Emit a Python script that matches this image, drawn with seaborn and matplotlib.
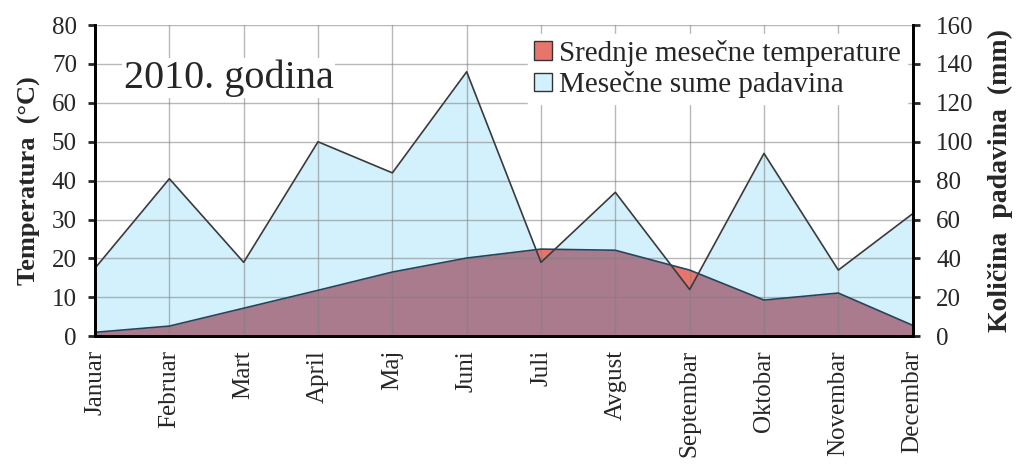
import numpy as np
import matplotlib.pyplot as plt
import seaborn as sns
from matplotlib.patches import Patch

# ------------------------------------------------------------
# Data
# ------------------------------------------------------------
months = ["Januar", "Februar", "Mart", "April", "Maj", "Juni", "Juli",
          "Avgust", "Septembar", "Oktobar", "Novembar", "Decembar"]
temperature = [1.0, 2.6, 7.2, 11.8, 16.5, 20.1, 22.4, 22.1, 17.0, 9.3, 11.1, 2.8]
precipitation = [35, 81, 38, 100, 84, 136, 38, 74, 24, 94, 34, 63]

temp_ticks = [0, 10, 20, 30, 40, 50, 60, 70, 80]
prec_ticks = [0, 20, 40, 60, 80, 100, 120, 140, 160]

BLUE = "#d3f1fc"
RED = "#e8756d"
MAUVE = "#a97b8c"

sns.set_style("white")
plt.rcParams["font.family"] = ["Liberation Serif", "DejaVu Serif"]

fig = plt.figure(figsize=(10.22, 4.65), dpi=100)
ax = fig.add_axes([0.093, 0.277, 0.8, 0.669])
ax2 = ax.twinx()

x = np.arange(len(months))
temp = np.array(temperature)
# precipitation expressed in left-axis units (0-160 mm <-> 0-80 C)
prec = np.array(precipitation) * (temp_ticks[-1] / prec_ticks[-1])

# fills: blue precipitation, mauve overlap, red where temperature sticks out
ax.fill_between(x, 0, prec, color=BLUE, lw=0, zorder=1)
ax.fill_between(x, 0, temp, color=MAUVE, lw=0, zorder=2)
ax.fill_between(x, prec, temp, where=temp > prec, interpolate=True,
                color=RED, lw=0, zorder=2)

# outlines
sns.lineplot(x=x, y=prec, ax=ax, color="#3a3a3a", lw=1.2, zorder=4)
sns.lineplot(x=x, y=temp, ax=ax, color="#27445e", lw=1.2, zorder=4)

# grid over the fills
ax.set_axisbelow(False)
ax.grid(True, color="#7f7f7f", lw=1.0, alpha=0.55, zorder=3)

ax.set_xlim(0, len(months) - 1)
ax.set_ylim(temp_ticks[0], temp_ticks[-1])
ax.set_yticks(temp_ticks)
ax.set_xticks(x)
ax.set_xticklabels(months, rotation=90, fontsize=18)
ax.tick_params(axis="y", labelsize=18, direction="out", length=5, width=2, pad=8)
ax.tick_params(axis="x", direction="out", length=6, width=2, pad=4)
ax.set_ylabel("Temperatura  (°C)", fontsize=19, fontweight="bold", labelpad=8)

ax2.set_ylim(prec_ticks[0], prec_ticks[-1])
ax2.set_yticks(prec_ticks)
ax2.tick_params(axis="y", labelsize=18, direction="out", length=5, width=2, pad=12)
ax2.set_ylabel("Količina  padavina  (mm)", fontsize=20, fontweight="bold", labelpad=10)

for a in (ax, ax2):
    a.spines["top"].set_visible(False)
    for side in ("left", "right", "bottom"):
        a.spines[side].set_linewidth(2)
        a.spines[side].set_color("black")

ax.text(0.035, 0.83, "2010. godina", transform=ax.transAxes, fontsize=29,
        va="center", ha="left", zorder=6,
        bbox=dict(facecolor="white", edgecolor="none", pad=1))

handles = [Patch(facecolor=RED, edgecolor="#333333", lw=1),
           Patch(facecolor=BLUE, edgecolor="#333333", lw=1)]
leg = ax2.legend(handles, ["Srednje mesečne temperature", "Mesečne sume padavina"],
                 loc="upper right", bbox_to_anchor=(1.0, 0.99), fontsize=21,
                 frameon=True, fancybox=False, framealpha=1, edgecolor="white",
                 handlelength=0.6, handleheight=0.6, handletextpad=0.25,
                 labelspacing=0.15, borderpad=0.2, borderaxespad=0.2)

fig.savefig("out.png", dpi=100)
